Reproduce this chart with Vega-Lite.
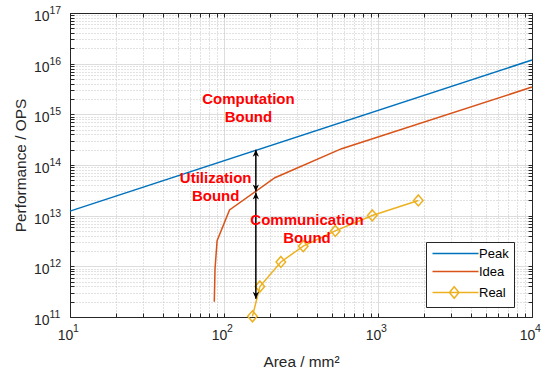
{
  "$schema": "https://vega.github.io/schema/vega-lite/v6.json",
  "width": 462,
  "height": 304,
  "autosize": {"type": "none"},
  "padding": {"left": 70, "top": 13, "right": 13, "bottom": 56},
  "background": "white",
  "config": {"font": "Liberation Sans", "view": {"stroke": "#262626", "strokeWidth": 1}},
  "datasets": {
    "lines": [
      {"series": "Peak", "area": 10, "perf": 1.23e13},
      {"series": "Peak", "area": 10000, "perf": 1.18e16},
      {"series": "Idea", "area": 86.5, "perf": 2.0e11},
      {"series": "Idea", "area": 87.4, "perf": 8.8e11},
      {"series": "Idea", "area": 90.2, "perf": 3.2e12},
      {"series": "Idea", "area": 108.6, "perf": 1.3e13},
      {"series": "Idea", "area": 214, "perf": 5.6e13},
      {"series": "Idea", "area": 581, "perf": 2.1e14},
      {"series": "Idea", "area": 10000, "perf": 3.45e15},
      {"series": "Real", "area": 153, "perf": 1.03e11},
      {"series": "Real", "area": 171, "perf": 4.0e11},
      {"series": "Real", "area": 234, "perf": 1.22e12},
      {"series": "Real", "area": 327, "perf": 2.5e12},
      {"series": "Real", "area": 528, "perf": 5.0e12},
      {"series": "Real", "area": 918, "perf": 1.01e13},
      {"series": "Real", "area": 1828, "perf": 2.0e13}
    ],
    "arrows": [
      {"area": 161, "top": 2.0e14, "bottom": 3.0e13},
      {"area": 161, "top": 2.85e13, "bottom": 2.3e11}
    ],
    "heads": [
      {"area": 161, "perf": 2.0e14, "dir": "up"},
      {"area": 161, "perf": 3.0e13, "dir": "down"},
      {"area": 161, "perf": 2.85e13, "dir": "up"},
      {"area": 161, "perf": 2.3e11, "dir": "down"}
    ],
    "notes": [
      {"label": "Computation\nBound", "area": 144, "perf": 1.97e15},
      {"label": "Utilization\nBound", "area": 88.3, "perf": 5.61e13},
      {"label": "Communication\nBound", "area": 346, "perf": 8.19e12}
    ]
  },
  "layer": [
    {
      "data": {"name": "lines"},
      "mark": {"type": "line", "strokeWidth": 1.5, "clip": false},
      "encoding": {
        "x": {
          "field": "area", "type": "quantitative",
          "scale": {"type": "log", "domain": [10, 10000], "nice": false},
          "axis": {
            "orient": "bottom",
            "values": [10,20,30,40,50,60,70,80,90,100,200,300,400,500,600,700,800,900,1000,2000,3000,4000,5000,6000,7000,8000,9000,10000],
            "labelExpr": "abs(log(datum.value)/LN10 - round(log(datum.value)/LN10)) < 0.001 ? '10' : ''",
            "grid": true,
            "gridColor": {"condition": {"test": "abs(log(datum.value)/LN10 - round(log(datum.value)/LN10)) < 0.001", "value": "#dddddd"}, "value": "#c4c4c4"},
            "gridDash": {"condition": {"test": "abs(log(datum.value)/LN10 - round(log(datum.value)/LN10)) < 0.001", "value": []}, "value": [1, 2]},
            "tickSize": -4,
            "tickColor": "#262626",
            "domainColor": "#262626",
            "labelFontSize": 14,
            "labelColor": "#262626",
            "labelPadding": 15.6,
            "labelOffset": -5,
            "labelBaseline": "top",
            "labelFlush": false,
            "labelOverlap": false,
            "labelBound": false,
            "title": "Area / mm²",
            "titleFontSize": 15.4,
            "titleFontWeight": "normal",
            "titleColor": "#262626",
            "titleX": 231,
            "titleY": 49.3,
            "titleBaseline": "alphabetic",
            "titleAlign": "center"
          }
        },
        "y": {
          "field": "perf", "type": "quantitative",
          "scale": {"type": "log", "domain": [1e11, 1e17], "nice": false},
          "axis": {
            "orient": "left",
            "values": [1e11,2e11,3e11,4e11,5e11,6e11,7e11,8e11,9e11,1e12,2e12,3e12,4e12,5e12,6e12,7e12,8e12,9e12,1e13,2e13,3e13,4e13,5e13,6e13,7e13,8e13,9e13,1e14,2e14,3e14,4e14,5e14,6e14,7e14,8e14,9e14,1e15,2e15,3e15,4e15,5e15,6e15,7e15,8e15,9e15,1e16,2e16,3e16,4e16,5e16,6e16,7e16,8e16,9e16,1e17],
            "labelExpr": "abs(log(datum.value)/LN10 - round(log(datum.value)/LN10)) < 0.001 ? '10' : ''",
            "grid": true,
            "gridColor": {"condition": {"test": "abs(log(datum.value)/LN10 - round(log(datum.value)/LN10)) < 0.001", "value": "#dddddd"}, "value": "#c4c4c4"},
            "gridDash": {"condition": {"test": "abs(log(datum.value)/LN10 - round(log(datum.value)/LN10)) < 0.001", "value": []}, "value": [1, 2]},
            "tickSize": -4,
            "tickColor": "#262626",
            "domainColor": "#262626",
            "labelFontSize": 14,
            "labelColor": "#262626",
            "labelPadding": 25,
            "labelOffset": 3.5,
            "labelAlign": "right",
            "labelBaseline": "middle",
            "labelFlush": false,
            "labelOverlap": false,
            "labelBound": false,
            "title": "Performance / OPS",
            "titleFontSize": 15.4,
            "titleFontWeight": "normal",
            "titleColor": "#262626",
            "titleX": -45,
            "titleY": 152,
            "titleAngle": -90,
            "titleBaseline": "alphabetic",
            "titleAlign": "center"
          }
        },
        "color": {
          "field": "series", "type": "nominal",
          "scale": {"domain": ["Peak", "Idea", "Real"], "range": ["#0072BD", "#D95319", "#EDB120"]},
          "legend": {
            "orient": "none",
            "legendX": 356,
            "legendY": 229,
            "title": null,
            "direction": "vertical",
            "fillColor": "white",
            "strokeColor": "#262626",
            "padding": 5,
            "symbolSize": 100,
            "symbolStrokeWidth": 1.5,
            "labelFontSize": 13,
            "labelColor": "#000000",
            "labelOffset": 35,
            "rowPadding": 4,
            "encode": {
              "symbols": {
                "update": {
                  "shape": [{"test": "datum.value === 'Real'", "value": "M-1,0H8.2M3.34,-1.15L4.29,0L3.34,1.15L2.39,0Z"}, {"value": "M-1,0H8.2"}],
                  "fill": {"value": "transparent"}
                }
              }
            }
          }
        }
      }
    },
    {
      "data": {"name": "lines"},
      "transform": [{"filter": "datum.series === 'Real'"}],
      "mark": {"type": "point", "shape": "M0,-1.1L0.95,0L0,1.1L-0.95,0Z", "size": 100, "filled": false, "color": "#EDB120", "strokeWidth": 1.5, "opacity": 1, "clip": false},
      "encoding": {
        "x": {
          "field": "area", "type": "quantitative",
          "axis": {
            "orient": "top",
            "values": [10,20,30,40,50,60,70,80,90,100,200,300,400,500,600,700,800,900,1000,2000,3000,4000,5000,6000,7000,8000,9000,10000],
            "labels": false, "grid": false, "tickSize": -4, "tickColor": "#262626", "domainColor": "#262626", "title": null
          }
        },
        "y": {
          "field": "perf", "type": "quantitative",
          "axis": {
            "orient": "right",
            "values": [1e11,2e11,3e11,4e11,5e11,6e11,7e11,8e11,9e11,1e12,2e12,3e12,4e12,5e12,6e12,7e12,8e12,9e12,1e13,2e13,3e13,4e13,5e13,6e13,7e13,8e13,9e13,1e14,2e14,3e14,4e14,5e14,6e14,7e14,8e14,9e14,1e15,2e15,3e15,4e15,5e15,6e15,7e15,8e15,9e15,1e16,2e16,3e16,4e16,5e16,6e16,7e16,8e16,9e16,1e17],
            "labels": false, "grid": false, "tickSize": -4, "tickColor": "#262626", "domainColor": "#262626", "title": null
          }
        }
      }
    },
    {
      "data": {"name": "arrows"},
      "mark": {"type": "rule", "color": "black", "strokeWidth": 1.5},
      "encoding": {
        "x": {
          "field": "area", "type": "quantitative",
          "axis": {
            "orient": "bottom",
            "values": [10, 100, 1000, 10000],
            "labelExpr": "'' + round(log(datum.value)/LN10)",
            "grid": false, "ticks": false, "domain": false,
            "labelFontSize": 10.5, "labelColor": "#262626",
            "labelPadding": 6.2, "labelOffset": 2.5,
            "labelAlign": "left", "labelBaseline": "top",
            "labelFlush": false, "labelOverlap": false, "labelBound": false,
            "title": null
          }
        },
        "y": {
          "field": "top", "type": "quantitative",
          "axis": {
            "orient": "left",
            "values": [1e11, 1e12, 1e13, 1e14, 1e15, 1e16, 1e17],
            "labelExpr": "'' + round(log(datum.value)/LN10)",
            "grid": false, "ticks": false, "domain": false,
            "labelFontSize": 10.5, "labelColor": "#262626",
            "labelPadding": 21, "labelOffset": -2.5,
            "labelAlign": "left", "labelBaseline": "middle",
            "labelFlush": false, "labelOverlap": false, "labelBound": false,
            "title": null
          }
        },
        "y2": {"field": "bottom"}
      }
    },
    {
      "data": {"name": "heads"},
      "mark": {"type": "point", "filled": true, "color": "black", "size": 196, "opacity": 1, "strokeWidth": 0, "clip": false},
      "encoding": {
        "x": {"field": "area", "type": "quantitative", "axis": null},
        "y": {"field": "perf", "type": "quantitative", "axis": null},
        "shape": {
          "field": "dir", "type": "nominal",
          "scale": {"domain": ["up", "down"], "range": ["M0,0L-0.45,1L0,0.7L0.45,1Z", "M0,0L-0.45,-1L0,-0.7L0.45,-1Z"]},
          "legend": null
        }
      }
    },
    {
      "data": {"name": "notes"},
      "mark": {"type": "text", "font": "Liberation Sans", "fontSize": 15, "fontWeight": "bold", "color": "#FF0000", "align": "center", "baseline": "middle", "lineBreak": "\n", "lineHeight": 18},
      "encoding": {
        "x": {"field": "area", "type": "quantitative", "axis": null},
        "y": {"field": "perf", "type": "quantitative", "axis": null},
        "text": {"field": "label"}
      }
    }
  ],
  "resolve": {"axis": {"x": "independent", "y": "independent"}}
}
